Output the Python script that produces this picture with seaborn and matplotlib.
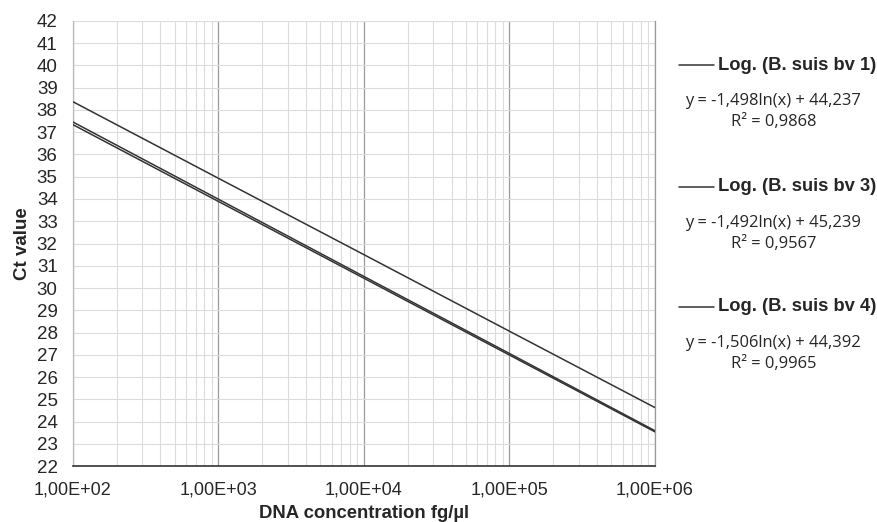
import numpy
import pandas
import matplotlib
matplotlib.use('Agg')
import matplotlib.pyplot as plt
from matplotlib import ticker
import seaborn as sns

# trend lines (log fit -> straight on a log x axis)
concentration = [1e2, 1e3, 1e4, 1e5, 1e6]
ctBv1 = [37.34, 33.89, 30.44, 26.99, 23.54]
ctBv3 = [38.37, 34.93, 31.50, 28.06, 24.63]
ctBv4 = [37.46, 33.99, 30.52, 27.06, 23.59]

seriesNames = ['Log. (B. suis bv 1)', 'Log. (B. suis bv 3)', 'Log. (B. suis bv 4)']
equations = ['y = -1,498ln(x) + 44,237', 'y = -1,492ln(x) + 45,239', 'y = -1,506ln(x) + 44,392']
rSquared = ['R\u00b2 = 0,9868', 'R\u00b2 = 0,9567', 'R\u00b2 = 0,9965']
xTickLabels = ['1,00E+02', '1,00E+03', '1,00E+04', '1,00E+05', '1,00E+06']

data = pandas.DataFrame({
    'conc': concentration * 3,
    'ct': ctBv1 + ctBv3 + ctBv4,
    'serie': [seriesNames[0]] * 5 + [seriesNames[1]] * 5 + [seriesNames[2]] * 5,
})

sns.set_style('white')
plt.rcParams['font.family'] = ['Liberation Sans', 'DejaVu Sans']

fig = plt.figure(figsize=(8.78, 5.22), dpi=100)
ax = fig.add_axes([0.083, 0.107, 0.663, 0.853])

lineColor = '#333333'
sns.lineplot(data=data, x='conc', y='ct', hue='serie',
             palette=[lineColor, lineColor, lineColor], linewidth=1.1,
             legend=False, ax=ax, zorder=3)

ax.set_xscale('log')
ax.set_xlim(1e2, 1e6)
ax.set_ylim(22, 42)
ax.set_yticks(range(22, 43))

ax.xaxis.set_major_locator(ticker.FixedLocator(concentration))
ax.xaxis.set_major_formatter(ticker.FixedFormatter(xTickLabels))
ax.xaxis.set_minor_locator(ticker.LogLocator(base=10, subs=numpy.arange(2, 10)))
ax.xaxis.set_minor_formatter(ticker.NullFormatter())

ax.grid(True, which='major', axis='x', color='#9a9a9a', linewidth=0.9)
ax.grid(True, which='minor', axis='x', color='#dcdcdc', linewidth=0.8)
ax.grid(True, which='major', axis='y', color='#dcdcdc', linewidth=0.8)
ax.set_axisbelow(True)

ax.spines['top'].set_visible(False)
ax.spines['right'].set_color('#9a9a9a')
ax.spines['right'].set_linewidth(0.9)
ax.spines['left'].set_color('#bbbbbb')
ax.spines['left'].set_linewidth(0.9)
ax.spines['bottom'].set_color('#333333')
ax.spines['bottom'].set_linewidth(1.2)

ax.tick_params(axis='x', which='major', direction='out', length=4, width=1.1,
               color='#333333', labelsize=13, pad=7)
ax.tick_params(axis='x', which='minor', length=0)
ax.tick_params(axis='y', direction='out', length=4, width=0.8,
               color='#bbbbbb', labelsize=13.5, pad=7)

ax.set_xlabel('DNA concentration fg/\u00b5l', fontsize=13.3, fontweight='bold')
ax.set_ylabel('Ct value', fontsize=13.5, fontweight='bold')
ax.xaxis.set_label_coords(0.5, -0.088)
ax.yaxis.set_label_coords(-0.072, 0.5)

# legend blocks on the right
legendTop = [0.875, 0.642, 0.412]
for name, eq, r2, yPos in zip(seriesNames, equations, rSquared, legendTop):
    fig.add_artist(plt.Line2D([0.773, 0.813], [yPos, yPos], color=lineColor,
                              linewidth=1.1, transform=fig.transFigure))
    fig.text(0.818, yPos, name, fontsize=13.2, fontweight='bold',
             va='center', ha='left')
    fig.text(0.880, yPos - 0.069, eq, fontsize=11.9, va='center', ha='center',
             family=['Open Sans', 'DejaVu Sans'])
    fig.text(0.881, yPos - 0.109, r2, fontsize=11.9, va='center', ha='center',
             family=['Open Sans', 'DejaVu Sans'])

fig.savefig('out.png', dpi=100)
